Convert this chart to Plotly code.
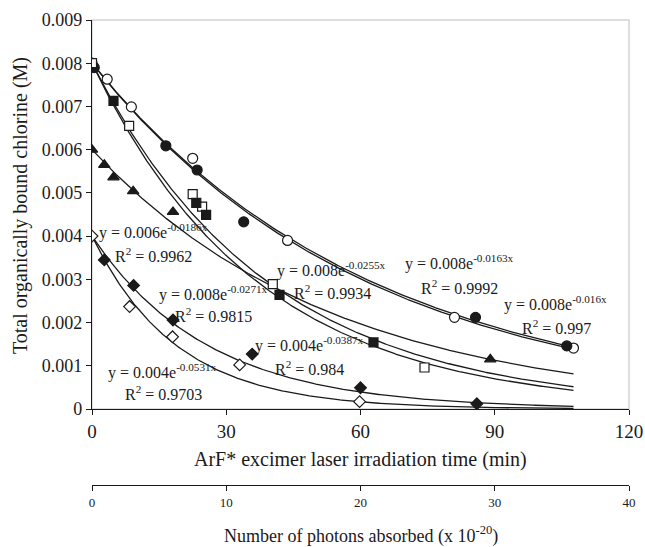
import numpy as np
import plotly.graph_objects as go

# ---- data ----
open_circle_x = [0, 3.4, 8.8, 22.5, 43.7, 81.0, 107.6]
open_circle_y = [0.0080, 0.00763, 0.00699, 0.00580, 0.00390, 0.00212, 0.00141]

filled_circle_x = [0.5, 16.5, 23.5, 33.9, 85.7, 106.1]
filled_circle_y = [0.00790, 0.00609, 0.00553, 0.00433, 0.00212, 0.00146]

filled_square_x = [4.8, 23.3, 25.5, 41.9, 62.9]
filled_square_y = [0.00713, 0.00477, 0.00449, 0.00264, 0.00154]

open_square_x = [0, 8.3, 22.5, 24.6, 40.4, 74.3]
open_square_y = [0.0080, 0.00655, 0.00497, 0.00468, 0.00289, 0.00096]

triangle_x = [0, 2.75, 4.8, 9.2, 18.1, 89.0]
triangle_y = [0.0060, 0.00565, 0.00536, 0.00504, 0.00456, 0.00115]

filled_diamond_x = [2.75, 9.3, 18.1, 35.8, 60.0, 86.0]
filled_diamond_y = [0.00345, 0.00286, 0.00206, 0.00127, 0.00049, 0.00012]

open_diamond_x = [0, 8.4, 18.0, 33.0, 59.8]
open_diamond_y = [0.0040, 0.00237, 0.00167, 0.00102, 0.00017]

# exponential trendlines y = a*exp(-b x)
fit_a = [0.008, 0.008, 0.008, 0.008, 0.006, 0.004, 0.004]
fit_b = [0.0163, 0.016, 0.0255, 0.0271, 0.0186, 0.0387, 0.0531]
fit_r2 = ["0.9992", "0.997", "0.9934", "0.9815", "0.9962", "0.984", "0.9703"]
fit_xmax = 107.6

y_tickvals = [0, 0.001, 0.002, 0.003, 0.004, 0.005, 0.006, 0.007, 0.008, 0.009]
y_ticktext = ["0", "0.001", "0.002", "0.003", "0.004", "0.005", "0.006", "0.007", "0.008", "0.009"]
x_tickvals = [0, 30, 60, 90, 120]
x2_tickvals = [0, 10, 20, 30, 40]

FONT = "Liberation Serif, Times New Roman, serif"
INK = "#1a1a1a"

fig = go.Figure()

xs = np.linspace(0, fit_xmax, 300)
for a, b in zip(fit_a, fit_b):
    fig.add_trace(go.Scatter(x=xs, y=a * np.exp(-b * xs), mode="lines",
                             line=dict(color=INK, width=1.3), hoverinfo="skip",
                             showlegend=False))

def add_markers(x, y, symbol, size, filled):
    fig.add_trace(go.Scatter(
        x=x, y=y, mode="markers", showlegend=False,
        marker=dict(symbol=symbol, size=size,
                    color=INK if filled else "white",
                    line=dict(color=INK, width=1.2))))

add_markers(open_circle_x, open_circle_y, "circle", 10, False)
add_markers(filled_circle_x, filled_circle_y, "circle", 10, True)
add_markers(open_square_x, open_square_y, "square", 9, False)
add_markers(filled_square_x, filled_square_y, "square", 9, True)
add_markers(triangle_x, triangle_y, "triangle-up", 10, True)
add_markers(open_diamond_x, open_diamond_y, "diamond", 9, False)
add_markers(filled_diamond_x, filled_diamond_y, "diamond", 9, True)

# invisible trace to carry the secondary (photons) axis
fig.add_trace(go.Scatter(x=[0, 40], y=[0, 0], xaxis="x2", yaxis="y", mode="lines",
                         line=dict(width=0), opacity=0, hoverinfo="skip", showlegend=False))

# equation labels: (x, y, x, y, index into fit lists)
eq_pos = [
    (69.6, 0.00338, 73.1, 0.00282, 0),
    (91.6, 0.00243, 95.7, 0.00190, 1),
    (41.0, 0.00322, 44.7, 0.00271, 2),
    (14.5, 0.00268, 18.2, 0.00217, 3),
    (1.12, 0.00410, 4.76, 0.00356, 4),
    (36.0, 0.00150, 40.5, 0.00095, 5),
    (3.2, 0.00086, 7.0, 0.00037, 6),
]
annotations = []
for ex, ey, rx, ry, i in eq_pos:
    a = fit_a[i]
    annotations.append(dict(x=ex, y=ey, xref="x", yref="y", xanchor="left", yanchor="middle",
                            showarrow=False, font=dict(family=FONT, size=16, color=INK),
                            text=f"y = {a:g}e<sup>-{fit_b[i]:g}x</sup>"))
    annotations.append(dict(x=rx, y=ry, xref="x", yref="y", xanchor="left", yanchor="middle",
                            showarrow=False, font=dict(family=FONT, size=16, color=INK),
                            text=f"R<sup>2</sup> = {fit_r2[i]}"))

annotations += [
    dict(x=0.5, y=0.055, xref="paper", yref="paper", showarrow=False, xanchor="center",
         yanchor="middle", text="ArF* excimer laser irradiation time (min)",
         font=dict(family=FONT, size=20, color=INK)),
    dict(x=0.5, y=-0.108, xref="paper", yref="paper", showarrow=False, xanchor="center",
         yanchor="middle", text="Number of photons absorbed (x 10<sup>-20</sup>)",
         font=dict(family=FONT, size=18, color=INK)),
    dict(x=-0.134, y=0.60, xref="paper", yref="paper", showarrow=False, xanchor="center",
         yanchor="middle", textangle=-90, text="Total organically bound chlorine (M)",
         font=dict(family=FONT, size=20, color=INK)),
]

fig.update_layout(
    width=645, height=547,
    margin=dict(l=92, r=16, t=20, b=62, autoexpand=False),
    paper_bgcolor="white", plot_bgcolor="white",
    font=dict(family=FONT, color=INK),
    showlegend=False,
    xaxis=dict(range=[0, 120], tickvals=x_tickvals, showgrid=False, zeroline=False,
               showline=True, linecolor=INK, linewidth=1.3, ticks="outside", ticklen=5,
               tickcolor=INK, tickfont=dict(family=FONT, size=19, color=INK),
               anchor="y", automargin=False),
    xaxis2=dict(range=[0, 40], tickvals=x2_tickvals, overlaying="x", anchor="free",
                position=0, side="bottom", showgrid=False, zeroline=False,
                showline=True, linecolor=INK, linewidth=1.3, ticks="outside", ticklen=5,
                tickcolor=INK, tickfont=dict(family=FONT, size=13, color=INK),
                automargin=False),
    yaxis=dict(range=[0, 0.009], domain=[(485 - 409) / 465, 1], tickvals=y_tickvals,
               ticktext=y_ticktext, showgrid=False, zeroline=False, showline=True,
               linecolor=INK, linewidth=1.3, ticks="outside", ticklen=5, tickcolor=INK,
               tickfont=dict(family=FONT, size=18, color=INK), automargin=False),
    annotations=annotations,
    shapes=[dict(type="rect", xref="x domain", yref="y domain", x0=0, x1=1, y0=0, y1=1,
                 line=dict(color="#d4d4d4", width=1.5), layer="below")],
)

# remove the default page margin so the 645x547 figure fills the window exactly
fig.write_html("out.html", config={"displayModeBar": False},
               post_script="document.body.style.margin='0';document.body.style.overflow='hidden';")
